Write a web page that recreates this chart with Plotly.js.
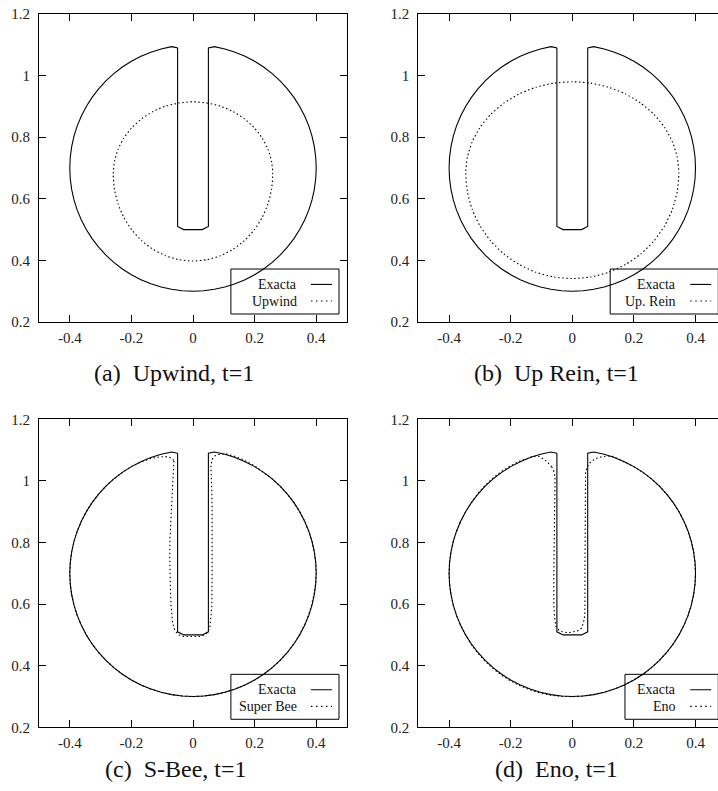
<!DOCTYPE html>
<html>
<head>
<meta charset="utf-8">
<script src="https://cdn.plot.ly/plotly-3.0.1.min.js"></script>
<style>
  html, body { margin: 0; padding: 0; background: #fff; overflow: hidden; }
  #chart { width: 730px; height: 791px; }
</style>
</head>
<body>
<div id="chart"></div>
<script>
// ---------------- DATA ----------------
const xTickVals = [-0.4, -0.2, 0, 0.2, 0.4];
const xTickText = ['-0.4', '-0.2', '0', '0.2', '0.4'];
const yTickVals = [0.2, 0.4, 0.6, 0.8, 1, 1.2];
const yTickText = ['0.2', '0.4', '0.6', '0.8', '1', '1.2'];

const seriesNames = ['Upwind', 'Up. Rein', 'Super Bee', 'Eno'];
const exactName = 'Exacta';
const captions = ['(a)\u00a0 Upwind, t=1', '(b)\u00a0 Up Rein, t=1', '(c)\u00a0 S-Bee, t=1', '(d)\u00a0 Eno, t=1'];

// Exact slotted disk (same in every panel)
const exactX = [
  -0.05, -0.05, -0.03, 0.03, 0.05, 0.05,
  0.0695, 0.1035, 0.1368, 0.1690, 0.2000, 0.2294, 0.2571, 0.2828, 0.3064, 0.3277, 0.3464, 0.3625, 0.3759, 0.3864, 0.3939, 0.3985, 0.4000,
  0.3985, 0.3939, 0.3864, 0.3759, 0.3625, 0.3464, 0.3277, 0.3064, 0.2828, 0.2571, 0.2294, 0.2000, 0.1690, 0.1368, 0.1035, 0.0695, 0.0349, 0.0000,
  -0.0349, -0.0695, -0.1035, -0.1368, -0.1690, -0.2000, -0.2294, -0.2571, -0.2828, -0.3064, -0.3277, -0.3464, -0.3625, -0.3759, -0.3864, -0.3939, -0.3985, -0.4000,
  -0.3985, -0.3939, -0.3864, -0.3759, -0.3625, -0.3464, -0.3277, -0.3064, -0.2828, -0.2571, -0.2294, -0.2000, -0.1690, -0.1368, -0.1035, -0.0695,
  -0.05
];
const exactY = [
  1.09, 0.51, 0.50, 0.50, 0.51, 1.09,
  1.0939, 1.0864, 1.0759, 1.0625, 1.0464, 1.0277, 1.0064, 0.9828, 0.9571, 0.9294, 0.9000, 0.8690, 0.8368, 0.8035, 0.7695, 0.7349, 0.7000,
  0.6651, 0.6305, 0.5965, 0.5632, 0.5310, 0.5000, 0.4706, 0.4429, 0.4172, 0.3936, 0.3723, 0.3536, 0.3375, 0.3241, 0.3136, 0.3061, 0.3015, 0.3000,
  0.3015, 0.3061, 0.3136, 0.3241, 0.3375, 0.3536, 0.3723, 0.3936, 0.4172, 0.4429, 0.4706, 0.5000, 0.5310, 0.5632, 0.5965, 0.6305, 0.6651, 0.7000,
  0.7349, 0.7695, 0.8035, 0.8368, 0.8690, 0.9000, 0.9294, 0.9571, 0.9828, 1.0064, 1.0277, 1.0464, 1.0625, 1.0759, 1.0864, 1.0939,
  1.09
];

// (a) Upwind
const upwindX = [
  0, 0.045, 0.0886, 0.1295, 0.1665, 0.1984, 0.2243, 0.2434, 0.2551, 0.259,
  0.2551, 0.2434, 0.2243, 0.1984, 0.1665, 0.1295, 0.0886, 0.045, 0,
  -0.045, -0.0886, -0.1295, -0.1665, -0.1984, -0.2243, -0.2434, -0.2551, -0.259,
  -0.2551, -0.2434, -0.2243, -0.1984, -0.1665, -0.1295, -0.0886, -0.045, 0
];
const upwindY = [
  0.915, 0.911, 0.901, 0.8835, 0.860, 0.831, 0.7975, 0.7604, 0.7208, 0.68,
  0.631, 0.5836, 0.539, 0.4987, 0.464, 0.4358, 0.415, 0.4023, 0.398,
  0.4023, 0.415, 0.4358, 0.464, 0.4987, 0.539, 0.5836, 0.631, 0.68,
  0.7208, 0.7604, 0.7975, 0.831, 0.860, 0.8835, 0.901, 0.911, 0.915
];

// (b) Up. Rein
const upReinX = [
  0, 0.0601, 0.1183, 0.173, 0.2224, 0.265, 0.2996, 0.3251, 0.3407, 0.346,
  0.3407, 0.3251, 0.2996, 0.265, 0.2224, 0.173, 0.1183, 0.0601, 0,
  -0.0601, -0.1183, -0.173, -0.2224, -0.265, -0.2996, -0.3251, -0.3407, -0.346,
  -0.3407, -0.3251, -0.2996, -0.265, -0.2224, -0.173, -0.1183, -0.0601, 0
];
const upReinY = [
  0.98, 0.9755, 0.9621, 0.9402, 0.9105, 0.8739, 0.8315, 0.7846, 0.7346, 0.683,
  0.6236, 0.566, 0.512, 0.4632, 0.421, 0.3868, 0.3616, 0.3462, 0.341,
  0.3462, 0.3616, 0.3868, 0.421, 0.4632, 0.512, 0.566, 0.6236, 0.683,
  0.7346, 0.7846, 0.8315, 0.8739, 0.9105, 0.9402, 0.9621, 0.9755, 0.98
];

// (c) Super Bee
const superBeeX = [
  -0.062, -0.064, -0.067, -0.071, -0.074, -0.075, -0.0755, -0.075, -0.073, -0.071,
  -0.066, -0.058, -0.045, -0.031, 0.0, 0.02, 0.039, 0.05, 0.055, 0.059,
  0.061, 0.062, 0.063, 0.062, 0.061, 0.059, 0.058, 0.062, 0.071, 0.09,
  0.109, 0.135, 0.16, 0.2, 0.2294, 0.2571, 0.2828, 0.3064, 0.3277, 0.3464,
  0.3625, 0.3759, 0.3864, 0.3939, 0.3985, 0.40, 0.3975, 0.3925, 0.385, 0.3745,
  0.3615, 0.3455, 0.327, 0.306, 0.2828, 0.2571, 0.2294, 0.2, 0.169, 0.1368,
  0.1035, 0.0695, 0.0349, 0, -0.0349, -0.0695, -0.1035, -0.1368, -0.169, -0.2,
  -0.2294, -0.2571, -0.2828, -0.3064, -0.3277, -0.3464, -0.3625, -0.3759, -0.3864, -0.3939,
  -0.3985, -0.4, -0.3985, -0.3939, -0.3864, -0.3759, -0.3625, -0.3464, -0.3277, -0.3064,
  -0.2828, -0.2571, -0.2294, -0.2, -0.169, -0.14, -0.11, -0.09, -0.075, -0.066,
  -0.062
];
const superBeeY = [
  1.065, 1.03, 0.983, 0.918, 0.86, 0.809, 0.75, 0.701, 0.64, 0.592,
  0.538, 0.512, 0.5, 0.495, 0.494, 0.495, 0.5, 0.512, 0.527, 0.56,
  0.592, 0.7, 0.809, 0.9, 0.972, 1.02, 1.048, 1.07, 1.081, 1.088,
  1.087, 1.08, 1.07, 1.049, 1.0285, 1.0064, 0.9828, 0.9571, 0.9294, 0.9,
  0.869, 0.8368, 0.8035, 0.7695, 0.7349, 0.70, 0.665, 0.63, 0.5965, 0.5632,
  0.531, 0.5, 0.4706, 0.4429, 0.4172, 0.3936, 0.3723, 0.3536, 0.3375, 0.3241,
  0.3136, 0.3061, 0.3015, 0.2995, 0.3015, 0.3061, 0.3136, 0.3241, 0.3375, 0.3536,
  0.3723, 0.3936, 0.4172, 0.4429, 0.4706, 0.5, 0.531, 0.5632, 0.5965, 0.6305,
  0.6651, 0.7, 0.7349, 0.7695, 0.8035, 0.8368, 0.869, 0.9, 0.9294, 0.9571,
  0.9828, 1.0064, 1.0277, 1.0464, 1.062, 1.072, 1.078, 1.079, 1.076, 1.071,
  1.065
];

// (d) Eno
const enoX = [
  -0.067, -0.059, -0.056, -0.057, -0.058, -0.059, -0.06, -0.06, -0.058, -0.053,
  -0.044, -0.035, -0.02, -0.007, 0.008, 0.02, 0.03, 0.036, 0.04, 0.041,
  0.041, 0.041, 0.041, 0.041, 0.043, 0.047, 0.054, 0.063, 0.078, 0.095,
  0.113, 0.13, 0.1368, 0.169, 0.2, 0.2294, 0.2571, 0.2828, 0.3064, 0.3277,
  0.3464, 0.3625, 0.3759, 0.3864, 0.3939, 0.3985, 0.4, 0.3985, 0.3939, 0.3864,
  0.3759, 0.3625, 0.3464, 0.3277, 0.3064, 0.2828, 0.2571, 0.2294, 0.2, 0.169,
  0.1368, 0.1035, 0.0695, 0.0349, 0, -0.0349, -0.0695, -0.1035, -0.1368, -0.169,
  -0.2, -0.2294, -0.2571, -0.2828, -0.3064, -0.3277, -0.3464, -0.3625, -0.3759, -0.3864,
  -0.3939, -0.3985, -0.4, -0.3985, -0.3939, -0.3864, -0.3759, -0.3625, -0.3464, -0.3277,
  -0.3064, -0.2828, -0.2571, -0.2294, -0.2, -0.169, -0.14, -0.126, -0.11, -0.093,
  -0.08, -0.067
];
const enoY = [
  1.046, 1.03, 1.01, 0.95, 0.9, 0.8, 0.7, 0.6, 0.56, 0.527,
  0.516, 0.511, 0.508, 0.508, 0.51, 0.514, 0.522, 0.538, 0.56, 0.592,
  0.7, 0.809, 0.9, 0.995, 1.025, 1.043, 1.056, 1.064, 1.073, 1.078,
  1.081, 1.08, 1.0765, 1.0625, 1.0464, 1.0277, 1.0064, 0.9828, 0.9571, 0.9294,
  0.9, 0.869, 0.8368, 0.8035, 0.7695, 0.7349, 0.7, 0.6651, 0.6305, 0.5965,
  0.5632, 0.531, 0.5, 0.4706, 0.4429, 0.4172, 0.3936, 0.3723, 0.3536, 0.3375,
  0.3241, 0.3136, 0.3061, 0.3015, 0.2995, 0.3005, 0.304, 0.311, 0.321, 0.3345,
  0.3505, 0.369, 0.3905, 0.4145, 0.4405, 0.4686, 0.4985, 0.5298, 0.5625, 0.596,
  0.6305, 0.6651, 0.7, 0.7349, 0.7695, 0.8035, 0.8368, 0.869, 0.9, 0.9294,
  0.9595, 0.9858, 1.0095, 1.031, 1.0495, 1.065, 1.0755, 1.08, 1.08, 1.071,
  1.06, 1.046
];

// ---------------- BUILD ----------------
const W = 730, H = 791;
const FONT = '"Liberation Serif", "Times New Roman", serif';
const dotDash = '1.5px,2.5px';

const approxX = [upwindX, upReinX, superBeeX, enoX];
const approxY = [upwindY, upReinY, superBeeY, enoY];
const approxShape = ['spline', 'spline', 'linear', 'linear'];

// panel pixel boxes [left, right, top, bottom]
const boxes = [
  [39, 347, 14, 322],
  [418.3, 726.3, 14, 322],
  [39, 347, 419.3, 727.3],
  [418.3, 726.3, 419.3, 727.3]
];
const captionX = [174, 556, 176, 556];
const captionY = [373, 373, 769, 769];
const legendLeft = [0.123, 0.123, 0.123, 0.171];

const traces = [];
const layout = {
  width: W, height: H,
  margin: {l: 0, r: 0, t: 0, b: 0},
  paper_bgcolor: '#fff', plot_bgcolor: '#fff',
  showlegend: false,
  font: {family: FONT, color: '#000'},
  shapes: [], annotations: []
};

for (let i = 0; i < 4; i++) {
  const n = i === 0 ? '' : String(i + 1);
  const xa = 'x' + n, ya = 'y' + n;
  const b = boxes[i];
  const common = {
    showline: true, linecolor: '#000', linewidth: 1, mirror: 'ticks',
    ticks: 'inside', ticklen: 7, tickwidth: 1, tickcolor: '#000',
    showgrid: false, zeroline: false, fixedrange: true,
    tickfont: {family: FONT, size: 15, color: '#222'}
  };
  layout['xaxis' + n] = Object.assign({}, common, {
    domain: [b[0] / W, b[1] / W], range: [-0.5, 0.5], anchor: ya,
    tickmode: 'array', tickvals: xTickVals, ticktext: xTickText, ticklabelstandoff: 2
  });
  layout['yaxis' + n] = Object.assign({}, common, {
    domain: [1 - b[3] / H, 1 - b[2] / H], range: [0.2, 1.2], anchor: xa,
    tickmode: 'array', tickvals: yTickVals, ticktext: yTickText, ticklabelstandoff: 5
  });

  traces.push({
    x: exactX, y: exactY, xaxis: xa, yaxis: ya, mode: 'lines', name: exactName,
    line: {color: '#000', width: 1.1}, hoverinfo: 'skip'
  });
  traces.push({
    x: approxX[i], y: approxY[i], xaxis: xa, yaxis: ya, mode: 'lines', name: seriesNames[i],
    line: {color: '#000', width: 1.1, dash: dotDash, shape: approxShape[i], smoothing: 0.6},
    hoverinfo: 'skip'
  });

  // legend box drawn in the panel's own coordinates
  layout.shapes.push({type: 'rect', xref: xa, yref: ya, x0: legendLeft[i], x1: 0.474, y0: 0.226, y1: 0.372,
    line: {color: '#000', width: 1}, fillcolor: 'rgba(255,255,255,0)'});
  layout.shapes.push({type: 'line', xref: xa, yref: ya, x0: 0.383, x1: 0.451, y0: 0.322, y1: 0.322,
    line: {color: '#000', width: 1.1}});
  layout.shapes.push({type: 'line', xref: xa, yref: ya, x0: 0.383, x1: 0.451, y0: 0.268, y1: 0.268,
    line: {color: '#000', width: 1.1, dash: '1.5px,3.5px'}});
  layout.annotations.push({xref: xa, yref: ya, x: 0.343, y: 0.322, xanchor: 'right', yanchor: 'middle',
    text: exactName, showarrow: false, font: {family: FONT, size: 14, color: '#111'}});
  layout.annotations.push({xref: xa, yref: ya, x: 0.343, y: 0.268, xanchor: 'right', yanchor: 'middle',
    text: seriesNames[i], showarrow: false, font: {family: FONT, size: 14, color: '#111'}});

  // caption
  layout.annotations.push({xref: 'paper', yref: 'paper', x: captionX[i] / W, y: 1 - captionY[i] / H,
    xanchor: 'center', yanchor: 'middle', text: captions[i], showarrow: false,
    font: {family: FONT, size: 24, color: '#111'}});
}

Plotly.newPlot('chart', traces, layout, {staticPlot: true, displayModeBar: false});
</script>
</body>
</html>
